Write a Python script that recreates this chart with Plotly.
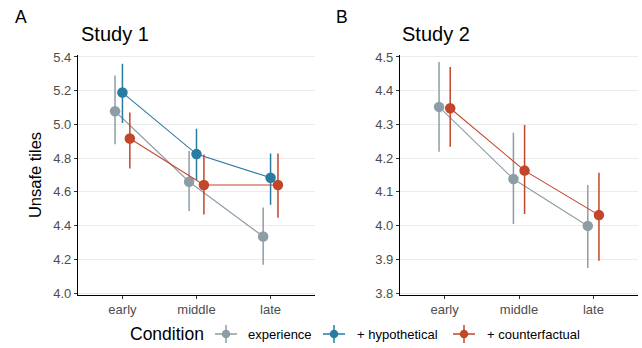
import plotly.graph_objects as go

phases = ["early", "middle", "late"]
conditions = ["experience", "+ hypothetical", "+ counterfactual"]
colors = {"experience": "#8D9DA6", "+ hypothetical": "#2A7BA1", "+ counterfactual": "#C2462A"}

# Study 1
s1_mean = {
    "experience": [5.078, 4.660, 4.335],
    "+ hypothetical": [5.189, 4.824, 4.684],
    "+ counterfactual": [4.917, 4.641, 4.641],
}
s1_low = {
    "experience": [4.883, 4.487, 4.167],
    "+ hypothetical": [5.009, 4.670, 4.524],
    "+ counterfactual": [4.739, 4.465, 4.447],
}
s1_high = {
    "experience": [5.290, 4.842, 4.507],
    "+ hypothetical": [5.360, 4.974, 4.828],
    "+ counterfactual": [5.071, 4.822, 4.828],
}

# Study 2
s2_mean = {
    "experience": [4.352, 4.138, 3.999],
    "+ counterfactual": [4.348, 4.163, 4.031],
}
s2_low = {
    "experience": [4.219, 4.005, 3.874],
    "+ counterfactual": [4.234, 4.034, 3.896],
}
s2_high = {
    "experience": [4.485, 4.275, 4.120],
    "+ counterfactual": [4.470, 4.298, 4.157],
}

FONT = "Liberation Sans, Arial, Helvetica, sans-serif"
fig = go.Figure()

dodge_width = 0.3


def add_panel(means, lows, highs, xaxis, yaxis):
    groups = list(means.keys())
    n = len(groups)
    for gi, cond in enumerate(groups):
        off = (gi - (n - 1) / 2) * dodge_width / n
        xs = [i + 1 + off for i in range(len(phases))]
        m = means[cond]
        fig.add_trace(go.Scatter(
            x=xs, y=m, mode="lines+markers", name=cond, showlegend=False,
            line=dict(color=colors[cond], width=1.1),
            marker=dict(color=colors[cond], size=10.5),
            error_y=dict(type="data", symmetric=False,
                         array=[h - v for h, v in zip(highs[cond], m)],
                         arrayminus=[v - l for v, l in zip(m, lows[cond])],
                         color=colors[cond], thickness=1.5, width=0),
            xaxis=xaxis, yaxis=yaxis,
        ))


add_panel(s1_mean, s1_low, s1_high, "x", "y")
add_panel(s2_mean, s2_low, s2_high, "x2", "y2")

# Custom legend (pointrange-style keys) on a pixel-unit helper axis
legend_key_x = [226, 334, 464]
legend_text_x = [246, 355, 485]
legend_y = 14
for cond, kx in zip(conditions, legend_key_x):
    fig.add_trace(go.Scatter(
        x=[kx], y=[legend_y], mode="markers", showlegend=False, hoverinfo="skip",
        marker=dict(color=colors[cond], size=8.5),
        error_x=dict(type="constant", value=11, color=colors[cond], thickness=1.5, width=0),
        error_y=dict(type="constant", value=9, color=colors[cond], thickness=1.5, width=0),
        xaxis="x3", yaxis="y3",
    ))
for cond, tx in zip(conditions, legend_text_x):
    fig.add_annotation(text=cond, x=tx, y=legend_y, xref="x3", yref="y3",
                       xanchor="left", yanchor="middle", showarrow=False,
                       font=dict(family=FONT, size=13, color="black"))
fig.add_annotation(text="Condition", x=128, y=legend_y, xref="x3", yref="y3",
                   xanchor="left", yanchor="middle", showarrow=False,
                   font=dict(family=FONT, size=17.5, color="black"))

ydom = [1 - 294.7 / 348, 1 - 55.3 / 348]
axis_common = dict(showline=True, linecolor="black", linewidth=1.2,
                   ticks="outside", ticklen=3, tickcolor="#333333",
                   tickfont=dict(family=FONT, size=13, color="#4D4D4D"),
                   zeroline=False, automargin=False)
hidden = dict(visible=False, showgrid=False, zeroline=False, fixedrange=True, automargin=False)
fig.update_layout(
    width=642, height=348,
    margin=dict(l=0, r=0, t=0, b=0),
    plot_bgcolor="white", paper_bgcolor="white",
    font=dict(family=FONT, color="black"),
    xaxis=dict(domain=[78 / 642, 315 / 642], range=[0.4, 3.6],
               tickvals=[1, 2, 3], ticktext=phases, showgrid=False, **axis_common),
    xaxis2=dict(domain=[400 / 642, 638 / 642], range=[0.4, 3.6],
                tickvals=[1, 2, 3], ticktext=phases, showgrid=False, **axis_common),
    yaxis=dict(domain=ydom, range=[3.99, 5.41], tickvals=[4.0, 4.2, 4.4, 4.6, 4.8, 5.0, 5.2, 5.4],
               tickformat=".1f", showgrid=True, gridcolor="#EBEBEB", gridwidth=1.2, anchor="x",
               title=dict(text="Unsafe tiles", font=dict(family=FONT, size=16.5), standoff=7),
               **axis_common),
    yaxis2=dict(domain=ydom, range=[3.795, 4.505], tickvals=[3.8, 3.9, 4.0, 4.1, 4.2, 4.3, 4.4, 4.5],
                tickformat=".1f", showgrid=True, gridcolor="#EBEBEB", gridwidth=1.2, anchor="x2",
                **axis_common),
    xaxis3=dict(domain=[0, 1], range=[0, 642], anchor="y3", **hidden),
    yaxis3=dict(domain=[0, 40 / 348], range=[0, 40], anchor="x3", **hidden),
    showlegend=False,
)

annots = [
    dict(text="A", x=13 / 642, y=1 - 17 / 348, size=17.5),
    dict(text="Study 1", x=79 / 642, y=1 - 34 / 348, size=20),
    dict(text="B", x=334 / 642, y=1 - 17 / 348, size=17.5),
    dict(text="Study 2", x=400 / 642, y=1 - 34 / 348, size=20),
]
for a in annots:
    fig.add_annotation(text=a["text"], x=a["x"], y=a["y"], xref="paper", yref="paper",
                       xanchor="left", yanchor="middle", showarrow=False,
                       font=dict(family=FONT, size=a["size"], color="black"))

fig.write_html("out.html", config={"displayModeBar": False},
               post_script="document.body.style.margin='0';document.body.style.overflow='hidden';")
